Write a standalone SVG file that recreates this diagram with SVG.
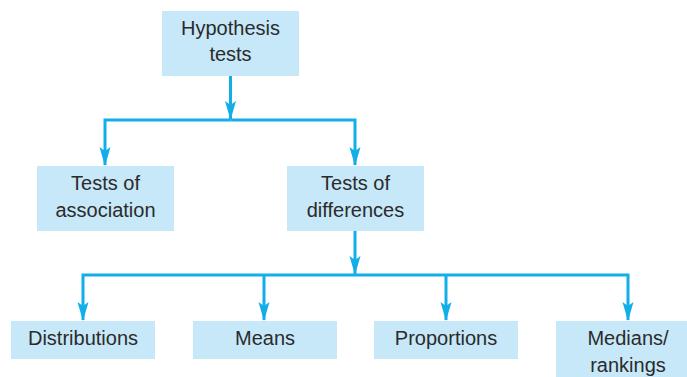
<svg xmlns="http://www.w3.org/2000/svg" width="687" height="377" viewBox="0 0 687 377">
<defs>
<style>
.box{fill:#c6e8f8;}
.t{font-family:"Liberation Sans",Arial,sans-serif;font-size:20px;fill:#2b2b2b;text-anchor:middle;}
.c{fill:none;stroke:#12aee8;stroke-width:3;stroke-linejoin:miter;stroke-linecap:butt;}
</style>
<marker id="ah" markerUnits="userSpaceOnUse" viewBox="0 -6 19 12" refX="18" refY="0" markerWidth="19" markerHeight="12" orient="auto">
<path d="M0,-5.5 L19,0 L0,5.5 L4,0 Z" fill="#12aee8"/>
</marker>
</defs>
<g id="connectors">
<path class="c" d="M230.5,75 V119" marker-end="url(#ah)"/>
<path class="c" d="M230.5,120 H105 V165" marker-end="url(#ah)"/>
<path class="c" d="M230.5,120 H355 V165" marker-end="url(#ah)"/>
<path class="c" d="M355,231 V274" marker-end="url(#ah)"/>
<path class="c" d="M355,275 H83 V320" marker-end="url(#ah)"/>
<path class="c" d="M264,275 V320" marker-end="url(#ah)"/>
<path class="c" d="M355,275 H628 V320" marker-end="url(#ah)"/>
<path class="c" d="M446,275 V320" marker-end="url(#ah)"/>
</g>
<g id="hypothesis-tests">
<rect class="box" x="162" y="11" width="137" height="65"/>
<text class="t" x="230.5" y="35">Hypothesis</text>
<text class="t" x="230.5" y="61">tests</text>
</g>
<g id="tests-of-association">
<rect class="box" x="37" y="166" width="137" height="65"/>
<text class="t" x="105.5" y="190">Tests of</text>
<text class="t" x="105.5" y="216.5">association</text>
</g>
<g id="tests-of-differences">
<rect class="box" x="287" y="166" width="137" height="65"/>
<text class="t" x="355.5" y="190">Tests of</text>
<text class="t" x="355.5" y="216.5">differences</text>
</g>
<g id="distributions">
<rect class="box" x="11" y="321" width="144" height="38"/>
<text class="t" x="83" y="345">Distributions</text>
</g>
<g id="means">
<rect class="box" x="193" y="321" width="144" height="38"/>
<text class="t" x="265" y="345">Means</text>
</g>
<g id="proportions">
<rect class="box" x="374" y="321" width="144" height="38"/>
<text class="t" x="446" y="345">Proportions</text>
</g>
<g id="medians-rankings">
<rect class="box" x="556" y="321" width="144" height="60"/>
<text class="t" x="628" y="345">Medians/</text>
<text class="t" x="628" y="371.5">rankings</text>
</g>
</svg>
